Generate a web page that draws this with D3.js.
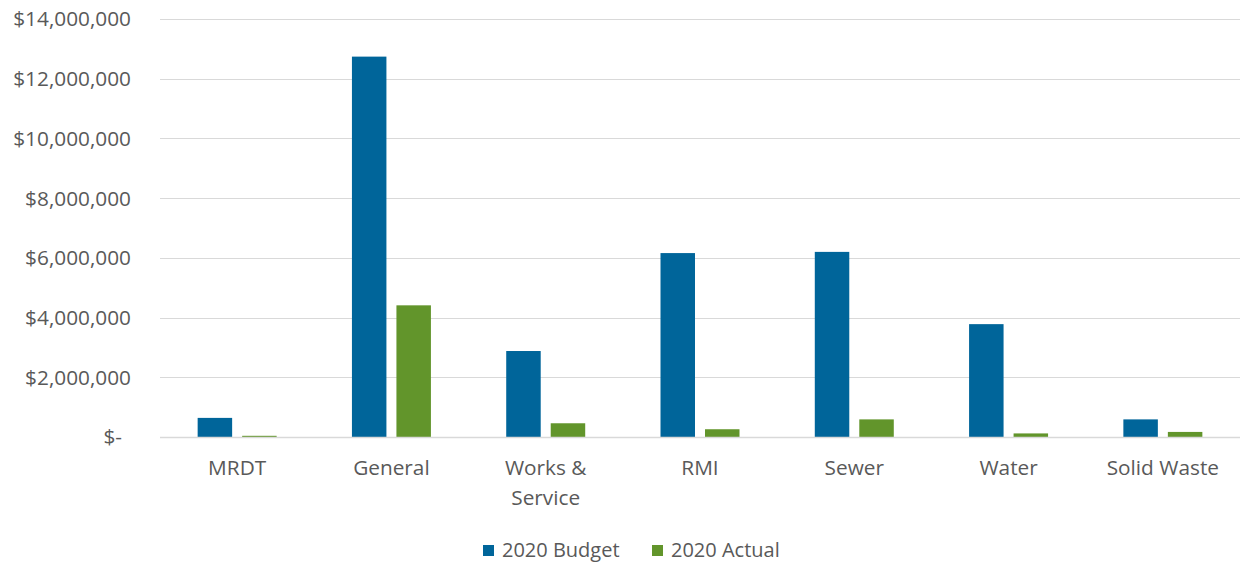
<!DOCTYPE html>
<html>
<head>
<meta charset="utf-8">
<script src="https://cdn.jsdelivr.net/npm/d3@7/dist/d3.min.js"></script>
<style>
  body { margin: 0; background: #fff; }
  svg text { font-family: "Open Sans", "Noto Sans", sans-serif; fill: #595959; }
</style>
</head>
<body>
<div id="chart"></div>
<script>
const CATEGORIES = ["MRDT", "General", "Works & Service", "RMI", "Sewer", "Water", "Solid Waste"];
const CATEGORY_LINES = [["MRDT"], ["General"], ["Works &", "Service"], ["RMI"], ["Sewer"], ["Water"], ["Solid Waste"]];
const SERIES = ["2020 Budget", "2020 Actual"];
const BUDGET = [640000, 12740000, 2880000, 6160000, 6200000, 3780000, 590000];
const ACTUAL = [40000, 4410000, 460000, 260000, 590000, 120000, 170000];
const Y_TICKS = [0, 2000000, 4000000, 6000000, 8000000, 10000000, 12000000, 14000000];

const COLORS = { "2020 Budget": "#00659a", "2020 Actual": "#62952b" };

const width = 1243;
const height = 565;
const margin = { top: 19, right: 3, bottom: 128, left: 160 };
const FONT_SIZE = "20.8px";

const svg = d3.select("#chart")
  .append("svg")
  .attr("width", width)
  .attr("height", height);

const x0 = d3.scaleBand()
  .domain(CATEGORIES)
  .range([margin.left, width - margin.right]);

const x1 = d3.scaleBand()
  .domain(SERIES)
  .range([0, x0.bandwidth()])
  .paddingInner(0.225)
  .paddingOuter(0.846);

const y = d3.scaleLinear()
  .domain([0, 14000000])
  .range([height - margin.bottom, margin.top]);

// gridlines
svg.append("g")
  .selectAll("line")
  .data(Y_TICKS.slice(1))
  .join("line")
  .attr("x1", margin.left)
  .attr("x2", width - margin.right)
  .attr("y1", (d) => Math.round(y(d)) + 0.5)
  .attr("y2", (d) => Math.round(y(d)) + 0.5)
  .attr("stroke", "#d9d9d9")
  .attr("stroke-width", 1);

// y labels
const fmt = d3.format(",");
svg.append("g")
  .selectAll("text")
  .data(Y_TICKS)
  .join("text")
  .attr("x", (d) => (d === 0 ? 122 : 131))
  .attr("y", (d) => y(d))
  .attr("dy", "0.36em")
  .attr("text-anchor", "end")
  .style("font-size", FONT_SIZE)
  .text((d) => (d === 0 ? "$-" : "$" + fmt(d)));

// bars
const rows = CATEGORIES.map((c, i) => ({
  category: c,
  values: [
    { series: SERIES[0], value: BUDGET[i] },
    { series: SERIES[1], value: ACTUAL[i] },
  ],
}));

svg.append("g")
  .selectAll("g")
  .data(rows)
  .join("g")
  .attr("transform", (d) => `translate(${x0(d.category)},0)`)
  .selectAll("rect")
  .data((d) => d.values)
  .join("rect")
  .attr("x", (d) => x1(d.series))
  .attr("width", x1.bandwidth())
  .attr("y", (d) => y(d.value))
  .attr("height", (d) => y(0) - y(d.value))
  .attr("fill", (d) => COLORS[d.series]);

// x axis line
svg.append("line")
  .attr("x1", margin.left)
  .attr("x2", width - margin.right)
  .attr("y1", y(0) + 0.5)
  .attr("y2", y(0) + 0.5)
  .attr("stroke", "#d9d9d9")
  .attr("stroke-width", 1.5);

// category labels
svg.append("g")
  .selectAll("text")
  .data(CATEGORIES)
  .join("text")
  .attr("x", (d) => x0(d) + x0.bandwidth() / 2)
  .attr("y", 475)
  .attr("text-anchor", "middle")
  .style("font-size", FONT_SIZE)
  .each(function (d, i) {
    const t = d3.select(this);
    CATEGORY_LINES[i].forEach((line, j) => {
      t.append("tspan")
        .attr("x", x0(d) + x0.bandwidth() / 2)
        .attr("dy", j === 0 ? 0 : 30)
        .text(line);
    });
  });

// legend
const legendItems = [
  { label: SERIES[0], x: 483 },
  { label: SERIES[1], x: 652 },
];
const legend = svg.append("g");
legendItems.forEach((item) => {
  legend.append("rect")
    .attr("x", item.x)
    .attr("y", 545)
    .attr("width", 11)
    .attr("height", 11)
    .attr("fill", COLORS[item.label]);
  legend.append("text")
    .attr("x", item.x + 19)
    .attr("y", 557)
    .style("font-size", "20px")
    .text(item.label);
});
</script>
</body>
</html>
